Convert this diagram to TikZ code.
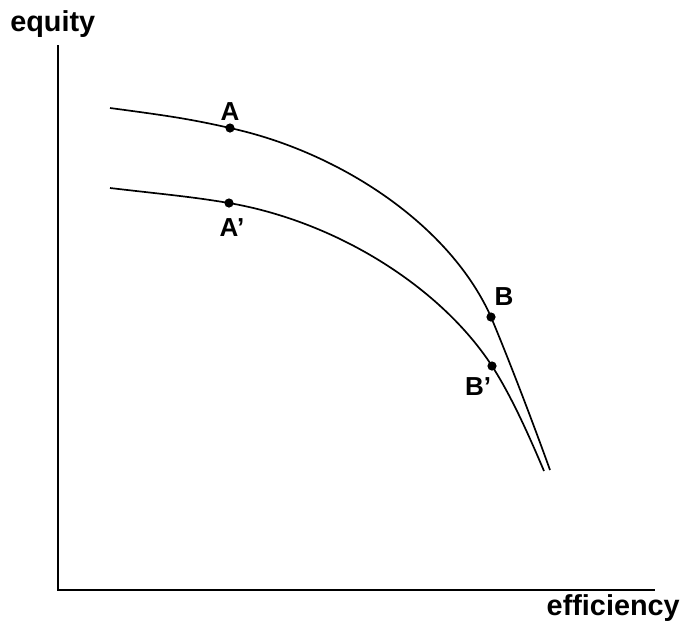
\documentclass[tikz,border=0pt]{standalone}
\usepackage{fontspec}
\setmainfont{Liberation Sans}
\usepackage{tikz}
\usetikzlibrary{positioning}

\begin{document}
\begin{tikzpicture}[
  x=0.025cm, y=-0.025cm,
  font=\bfseries\fontsize{20.5}{24}\selectfont,
  ax/.style={line width=1.4pt},
  cv/.style={line width=1.2pt},
  pt/.style={circle, fill, inner sep=0pt, minimum size=2.3mm},
  lbl/.style={inner sep=0pt, font=\bfseries\fontsize{18.5}{22}\selectfont},
]
\useasboundingbox (0,0) rectangle (682,621);
% axes
\coordinate (o) at (58,590);
\coordinate (ytop) at (58,45);
\coordinate (xend) at (655,590);
\draw[ax] (ytop) -- (o) -- (xend);
\node[anchor=base west, inner sep=0pt] (ylab) at (10,31) {equity};
\node[anchor=base east, inner sep=0pt] (xlab) at (680,615) {efficiency};
% points
\node[pt] (a) at (230,128) {};
\node[pt] (a2) at (229,203) {};
\node[pt] (b) at (491,317) {};
\node[pt] (b2) at (492,366) {};
\node[lbl] (la) at (230,112) {A};
\node[lbl] (la2) at (232,228) {A'};
\node[lbl] (lb) at (504,297) {B};
\node[lbl] (lb2) at (478,387) {B'};
% frontiers
\coordinate (s1) at (110,108);
\coordinate (e1) at (550,470);
\coordinate (s2) at (110,188);
\coordinate (e2) at (544,471);
\draw[cv] (s1) .. controls (170,116) and (190,119) .. (a.center)
  .. controls (340,152) and (450,225) .. (b.center)
  .. controls (509,360) and (532,420) .. (e1);
\draw[cv] (s2) .. controls (170,195) and (190,196.5) .. (a2.center)
  .. controls (339,222) and (442,289) .. (b2.center)
  .. controls (512,397) and (530,438) .. (e2);
\end{tikzpicture}
\end{document}
